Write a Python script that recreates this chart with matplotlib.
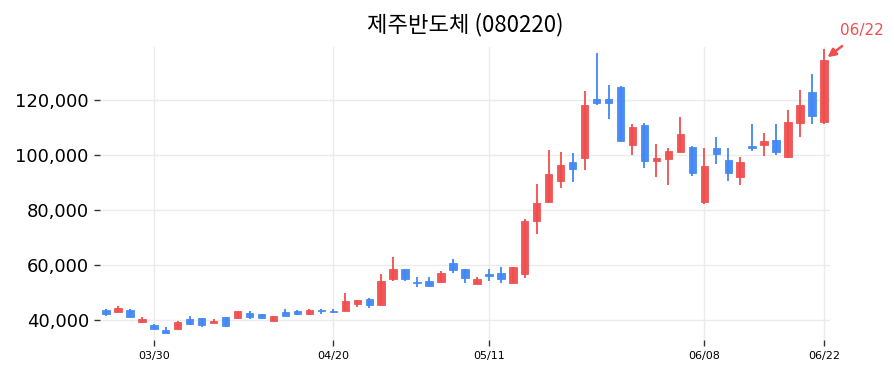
import pandas as pd
import matplotlib
matplotlib.use("Agg")
import matplotlib.pyplot as plt

# 제주반도체 (080220) daily candles, 2023-03-24 .. 2023-06-22
holidays = ["2023-05-01", "2023-05-05", "2023-05-29", "2023-06-06"]
tick_dates = ["2023-03-30", "2023-04-20", "2023-05-11", "2023-06-08", "2023-06-22"]

opens = [43500, 43000, 43600, 39400, 38300, 36250, 36700, 40350, 40700, 38800,
         41100, 40600, 42550, 42200, 39750, 43000, 43150, 42200, 43750, 43400,
         43400, 45950, 47750, 45600, 54900, 58550, 53700, 54200, 53900, 60700,
         58550, 53200, 56600, 57100, 53600, 56850, 76100, 82800, 90650, 97450,
         99000, 120250, 120250, 124850, 103750, 111000, 97950, 98650, 101100, 103000,
         82800, 102650, 98200, 92100, 103250, 103750, 105550, 99250, 111750, 123000,
         112100]
highs = [44100, 45100, 43800, 41100, 38400, 37300, 39750, 41450, 40800, 40350,
         41200, 43200, 43150, 42300, 41500, 43900, 43650, 43800, 43800, 43900,
         49700, 47400, 47900, 56600, 62800, 58700, 55500, 55750, 57700, 62200,
         58700, 55750, 58400, 59400, 59400, 76600, 89450, 101800, 101200, 100850,
         123400, 137200, 125300, 125000, 111150, 111600, 104100, 102400, 113700, 103100,
         102400, 106400, 102400, 99150, 111150, 108150, 111150, 116250, 123500, 129550,
         138400]
lows = [41500, 42900, 40900, 38800, 36700, 35100, 36600, 38200, 37600, 38700,
        37450, 40400, 40500, 40800, 39500, 41400, 41800, 41700, 42200, 42550,
        43300, 44600, 44250, 45500, 54050, 54050, 52100, 52400, 53800, 57000,
        53300, 53100, 54300, 53300, 53500, 55150, 71250, 82400, 87900, 90050,
        94550, 118050, 113100, 105000, 99900, 95150, 92100, 89000, 101000, 92250,
        82050, 96700, 90550, 89000, 101550, 99600, 99900, 99000, 106650, 111150,
        111150]
closes = [42200, 44250, 41000, 40500, 36800, 35150, 39400, 38650, 38200, 39500,
          37950, 43150, 41100, 40850, 41450, 41450, 42300, 43750, 43400, 43000,
          46900, 47300, 45450, 54300, 58550, 54900, 53300, 52500, 57100, 58300,
          55150, 54900, 56100, 55000, 59300, 76100, 82550, 93100, 96350, 95000,
          118200, 119000, 119000, 105100, 110200, 97950, 99000, 101450, 107600, 93600,
          96000, 100500, 93600, 97450, 102550, 105100, 101100, 112100, 118200, 114300,
          134650]

RED = "#f04e4e"
BLUE = "#4287f5"

dates = pd.bdate_range("2023-03-24", "2023-06-22")
dates = dates[~dates.isin(pd.to_datetime(holidays))]
df = pd.DataFrame({"open": opens, "high": highs, "low": lows, "close": closes}, index=dates)
x = list(range(len(df)))
colors = [RED if c >= o else BLUE for o, c in zip(df["open"], df["close"])]

fig = plt.figure(figsize=(8.95, 3.73), dpi=100)
ax = fig.add_axes([0.1117, 0.0885, 0.8156, 0.7855])

ax.vlines(x, df["low"], df["high"], colors=colors, linewidth=1.3, zorder=2)
bottoms = df[["open", "close"]].min(axis=1)
heights = (df["close"] - df["open"]).abs()
ax.bar(x, heights, bottom=bottoms, width=0.62, color=colors,
       edgecolor=colors, linewidth=0.6, alpha=0.95, zorder=3)

ax.set_xlim(-0.5, len(df) - 0.5)
ax.set_ylim(32700, 139300)
ax.set_yticks([40000, 60000, 80000, 100000, 120000])
ax.yaxis.set_major_formatter(matplotlib.ticker.FuncFormatter(lambda v, p: f"{int(v):,}"))

tick_pos = [df.index.get_loc(pd.Timestamp(d)) for d in tick_dates]
ax.set_xticks(tick_pos)
ax.set_xticklabels([pd.Timestamp(d).strftime("%m/%d") for d in tick_dates])

ax.tick_params(axis="y", labelsize=13, length=4, width=1, color="#333333", pad=4)
ax.tick_params(axis="x", labelsize=8, length=4, width=1, color="#333333", pad=4)
ax.grid(True, color="#ebebeb", linewidth=1, zorder=0)
ax.set_axisbelow(True)
for s in ax.spines.values():
    s.set_visible(False)

fig.suptitle("제주반도체 (080220)", x=0.52, y=0.965, fontsize=16,
             family=["Noto Sans CJK KR", "DejaVu Sans"])

last = len(df) - 1
ax.annotate(tick_dates[-1][5:].replace("-", "/"),
            xy=(last + 0.3, df["high"].iloc[-1] - 2800),
            xytext=(25, 19), textcoords="offset points",
            ha="center", va="center", fontsize=11, color=RED,
            arrowprops=dict(arrowstyle="-|>", color=RED, lw=1.8,
                            shrinkA=6, shrinkB=0, mutation_scale=12),
            annotation_clip=False)

fig.savefig("out.png", dpi=100)
